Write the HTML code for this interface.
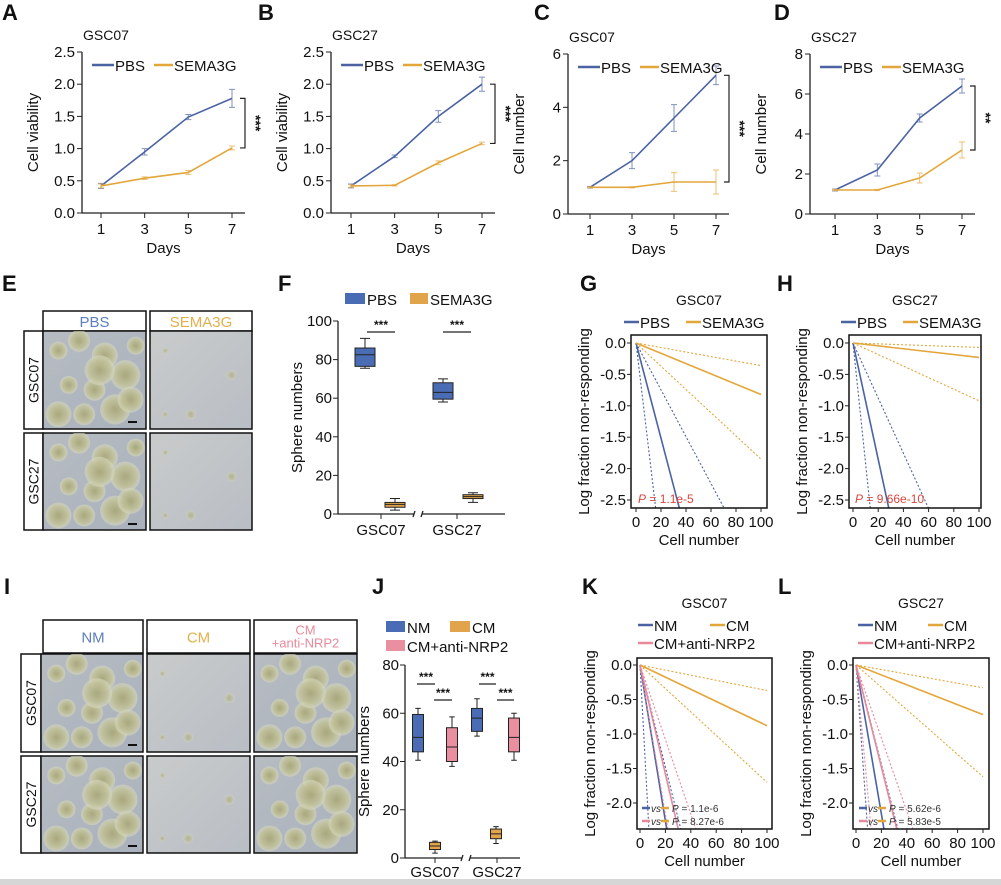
<!DOCTYPE html>
<html><head><meta charset="utf-8"><style>
html,body{margin:0;padding:0;background:#fff;width:1001px;height:885px;overflow:hidden;}
svg{display:block;font-family:"Liberation Sans",Arial,sans-serif;}
</style></head><body>
<svg id="fig" width="1001" height="885" viewBox="0 0 1001 885" xmlns="http://www.w3.org/2000/svg">
<defs>
<radialGradient id="blob" cx="50%" cy="50%" r="50%"><stop offset="0%" stop-color="#a8a676"/><stop offset="70%" stop-color="#c2c29a"/><stop offset="100%" stop-color="#d8dac0" stop-opacity="0.6"/></radialGradient>
<linearGradient id="bgA" x1="0" y1="0" x2="1" y2="1"><stop offset="0" stop-color="#b7bcc2"/><stop offset="1" stop-color="#a9b1bc"/></linearGradient>
<linearGradient id="bgB" x1="0" y1="0" x2="1" y2="1"><stop offset="0" stop-color="#c9cbcb"/><stop offset="1" stop-color="#b9bec5"/></linearGradient>
</defs>
<rect x="0" y="879" width="1001" height="6" fill="#d6d6d6"/>
<g id="root"></g>
</svg>
<script>
// ---------- Data: panels A-D ----------
const days=[1,3,5,7];
const aPBS=[0.42,0.95,1.49,1.78], aPBSerr=[0.04,0.05,0.04,0.14];
const aSEMA=[0.42,0.54,0.63,1.01], aSEMAerr=[0.03,0.02,0.03,0.03];
const bPBS=[0.42,0.88,1.50,2.00], bPBSerr=[0.03,0.02,0.09,0.11];
const bSEMA=[0.42,0.43,0.78,1.08], bSEMAerr=[0.02,0.01,0.03,0.02];
const cPBS=[1,2,3.6,5.2], cPBSerr=[0.03,0.3,0.5,0.35];
const cSEMA=[1,1,1.2,1.2], cSEMAerr=[0.02,0.02,0.35,0.45];
const dPBS=[1.2,2.2,4.8,6.4], dPBSerr=[0.05,0.3,0.2,0.35];
const dSEMA=[1.2,1.2,1.8,3.2], dSEMAerr=[0.03,0.03,0.25,0.4];
const ticksAB=[0,0.5,1.0,1.5,2.0,2.5];
const ticksC=[0,2,4,6];
const ticksD=[0,2,4,6,8];
// ---------- Data: panel F (min,q1,med,q3,max) ----------
const fGroups=["GSC07","GSC27"];
const fPBS=[[75.5,76.5,82.5,86,91],[58,59.5,63,68,70]];
const fSEMA=[[2,3.5,5,6,8],[6,8,9,10,11]];
const fTicks=[0,20,40,60,80,100];
// ---------- Data: panel J ----------
const jGroups=["GSC07","GSC27"];
const jNM=[[40.5,44,50,59.5,62],[50.5,52.5,58,62,66]];
const jCM=[[2,3.5,5,6.5,7],[6,8,10,12,13]];
const jNRP=[[38,40,46,54,58.5],[40.5,44,50,58,60]];
const jTicks=[0,20,40,60,80];
// ---------- Data: LDA slopes (log fraction per cell): [estimate, lower, upper] ----------
const gPBS=[-0.0758,-0.167,-0.0373], gSEMA=[-0.0082,-0.0185,-0.0036];
const hPBS=[-0.0926,-0.192,-0.0439], hSEMA=[-0.0023,-0.0092,-0.0007];
const kNM=[-0.113,-0.34,-0.074], kCM=[-0.0088,-0.017,-0.0037], kNRP=[-0.079,-0.108,-0.054];
const lNM=[-0.108,-0.26,-0.072], lCM=[-0.0072,-0.0162,-0.0033], lNRP=[-0.074,-0.2,-0.053];
const ldaTicksGH=[0,-0.5,-1.0,-1.5,-2.0,-2.5];
const ldaTicksKL=[0,-0.5,-1.0,-1.5,-2.0];
const ldaXTicks=[0,20,40,60,80,100];

const BLUE="#4b63a3", ORANGE="#e3a63a", PINK="#e8899b";
const NS="http://www.w3.org/2000/svg";
const root=document.getElementById('root');
function el(tag,attrs,parent,txt){const e=document.createElementNS(NS,tag);for(const k in attrs)e.setAttribute(k,attrs[k]);if(txt!==undefined)e.textContent=txt;(parent||root).appendChild(e);return e;}
function text(x,y,s,opt,parent){opt=opt||{};const t=el('text',{x:x,y:y,'font-size':opt.size||15,fill:opt.fill||'#111','text-anchor':opt.anchor||'start','font-weight':opt.weight||'normal'},parent,s);if(opt.rot)t.setAttribute('transform','rotate(-90 '+x+' '+y+')');if(opt.italic)t.setAttribute('font-style','italic');return t;}

const letters=[["A",2,20],["B",258,20],["C",534,20],["D",774,20],["E",2,291],["F",278,291],["G",580,291],["H",777,291],["I",4,594],["J",372,594],["K",582,594],["L",778,594]];
letters.forEach(l=>{const t=text(l[1],l[2],l[0],{size:22,weight:'bold'});

});

function lineChart(cfg){
  const g=el('g',{});
  
  
  const ys=v=>cfg.yBot-(v/cfg.yMax)*(cfg.yBot-cfg.yTop);
  const xs=d=>cfg.x1+(d-1)/6*(cfg.x7-cfg.x1);
  el('line',{x1:cfg.axX,y1:cfg.yTop,x2:cfg.axX,y2:cfg.yBot,stroke:'#222','stroke-width':1.3},g);
  el('line',{x1:cfg.axX,y1:cfg.yBot,x2:cfg.x7+13,y2:cfg.yBot,stroke:'#222','stroke-width':1.3},g);
  cfg.ticks.forEach(t=>{const y=ys(t);el('line',{x1:cfg.axX-5,y1:y,x2:cfg.axX,y2:y,stroke:'#222'},g);
    text(cfg.axX-7,y+5,cfg.dec?t.toFixed(1):String(t),{anchor:'end',size:15},g);});
  days.forEach(d=>{const x=xs(d);el('line',{x1:x,y1:cfg.yBot,x2:x,y2:cfg.yBot+5,stroke:'#222'},g);text(x,cfg.yBot+21,String(d),{anchor:'middle'},g);});
  text((cfg.axX+cfg.x7+13)/2,cfg.yBot+40,'Days',{anchor:'middle'},g);
  text(cfg.axX-44,(cfg.yTop+cfg.yBot)/2,cfg.ylab,{anchor:'middle',rot:true},g);
  text(cfg.axX+1,cfg.yTop-12,cfg.title,{size:14},g);
  [[cfg.s1,cfg.e1,BLUE,'pbs'],[cfg.s2,cfg.e2,ORANGE,'sema3g']].forEach(s=>{
    const pts=s[0].map((v,i)=>xs(days[i])+','+ys(v)).join(' ');
    const pl=el('polyline',{points:pts,fill:'none',stroke:s[2],'stroke-width':1.6},g);
    
    
    s[0].forEach((v,i)=>{const x=xs(days[i]);const e=s[1][i];
      el('path',{d:`M${x},${ys(v+e)}V${ys(v-e)}M${x-3},${ys(v+e)}h6M${x-3},${ys(v-e)}h6`,stroke:s[2],'stroke-width':1,fill:'none','stroke-opacity':0.7},g);});
  });
  const ly=cfg.yTop+13;
  el('line',{x1:cfg.axX+10,y1:ly,x2:cfg.axX+32,y2:ly,stroke:BLUE,'stroke-width':2.5},g);
  text(cfg.axX+33,ly+6,'PBS',{},g);
  el('line',{x1:cfg.axX+72,y1:ly,x2:cfg.axX+91,y2:ly,stroke:ORANGE,'stroke-width':2.5},g);
  text(cfg.axX+92,ly+6,'SEMA3G',{},g);
  const bx=cfg.x7+13, t1=ys(cfg.s1[3]), t2=ys(cfg.s2[3]);
  el('path',{d:`M${bx-5},${t1}H${bx}V${t2}H${bx-5}`,stroke:'#222',fill:'none','stroke-width':1.2},g);
  const st=text(bx+6,(t1+t2)/2,cfg.stars,{anchor:'middle',size:14,weight:'bold'},g);
  st.setAttribute('transform','rotate(90 '+(bx+6)+' '+((t1+t2)/2)+')');
}
lineChart({id:'a',axX:82,yTop:52,yBot:213,yMax:2.5,x1:101,x7:232,ticks:ticksAB,dec:true,s1:aPBS,e1:aPBSerr,s2:aSEMA,e2:aSEMAerr,ylab:'Cell viability',title:'GSC07',stars:'***'});
lineChart({id:'b',axX:331,yTop:52,yBot:213,yMax:2.5,x1:351,x7:482,ticks:ticksAB,dec:true,s1:bPBS,e1:bPBSerr,s2:bSEMA,e2:bSEMAerr,ylab:'Cell viability',title:'GSC27',stars:'***'});
lineChart({id:'c',axX:568,yTop:54,yBot:214,yMax:6,x1:590,x7:716,ticks:ticksC,dec:false,s1:cPBS,e1:cPBSerr,s2:cSEMA,e2:cSEMAerr,ylab:'Cell number',title:'GSC07',stars:'***'});
lineChart({id:'d',axX:810,yTop:54,yBot:214,yMax:8,x1:835,x7:962,ticks:ticksD,dec:false,s1:dPBS,e1:dPBSerr,s2:dSEMA,e2:dSEMAerr,ylab:'Cell number',title:'GSC27',stars:'**'});

function micro(x,y,w,h,dense,name){
  const g=el('g',{});
  
  
  el('rect',{x:x,y:y,width:w,height:h,fill:dense?'url(#bgA)':'url(#bgB)',stroke:'#111','stroke-width':1.5},g);
  const cp=el('clipPath',{id:'cp'+name},g);el('rect',{x:x,y:y,width:w,height:h},cp);
  const gg=el('g',{'clip-path':'url(#cp'+name+')'},g);
  const spots=[[.15,.2],[.35,.1],[.6,.25],[.8,.45],[.25,.55],[.5,.6],[.15,.85],[.7,.8],[.9,.15],[.4,.85],[.85,.7],[.55,.4]];
  spots.forEach((s,i)=>{ if(!dense && i%3) return;
    const r=dense?(9+(i%4)*2):3+(i%2)*2;
    el('circle',{cx:x+s[0]*w,cy:y+s[1]*h,r:r,fill:'url(#blob)','fill-opacity':dense?0.9:0.6},gg);});
}
function header(x,y,w,h,label,color,name,l2){
  const g=el('g',{});
  el('rect',{x:x,y:y,width:w,height:h,fill:'#fff',stroke:'#111','stroke-width':1.5},g);
  if(l2){text(x+w/2,y+h/2-2,label,{anchor:'middle',fill:color,size:13},g);text(x+w/2,y+h/2+11,l2,{anchor:'middle',fill:color,size:13},g);}
  else text(x+w/2,y+h/2+6,label,{anchor:'middle',fill:color,size:15},g);
}
function rowLabel(x,y,w,h,label,name){
  const g=el('g',{});
  el('rect',{x:x,y:y,width:w,height:h,fill:'#fff',stroke:'#111','stroke-width':1.5},g);
  text(x+w/2+5,y+h/2,label,{anchor:'middle',rot:true,size:14},g);
}
header(43,311,103,20,'PBS','#5b7fc0','e-header-pbs');
header(150,311,102,20,'SEMA3G','#e3b04b','e-header-sema3g');
rowLabel(24,331,19,98,'GSC07','e-row-gsc07');rowLabel(24,433,19,97,'GSC27','e-row-gsc27');
micro(43,331,103,98,true,'e-img-gsc07-pbs');micro(150,331,102,98,false,'e-img-gsc07-sema3g');
micro(43,433,103,97,true,'e-img-gsc27-pbs');micro(150,433,102,97,false,'e-img-gsc27-sema3g');
el('line',{x1:128,y1:422,x2:137,y2:422,stroke:'#111','stroke-width':2});el('line',{x1:128,y1:524,x2:137,y2:524,stroke:'#111','stroke-width':2});
header(43,620,100,33,'NM','#5b7fc0','i-header-nm');
header(147,620,103,33,'CM','#e3b04b','i-header-cm');
header(254,620,103,33,'CM','#e8899b','i-header-cm-anti-nrp2','+anti-NRP2');
rowLabel(21,654,20,98,'GSC07','i-row-gsc07');rowLabel(21,756,20,97,'GSC27','i-row-gsc27');
micro(41,654,102,98,true,'i-img-gsc07-nm');micro(147,654,103,98,false,'i-img-gsc07-cm');micro(254,654,103,98,true,'i-img-gsc07-nrp2');
micro(41,756,102,97,true,'i-img-gsc27-nm');micro(147,756,103,97,false,'i-img-gsc27-cm');micro(254,756,103,97,true,'i-img-gsc27-nrp2');
el('line',{x1:128,y1:745,x2:137,y2:745,stroke:'#111','stroke-width':2});el('line',{x1:128,y1:846,x2:137,y2:846,stroke:'#111','stroke-width':2});

function boxChart(cfg){
  const g=el('g',{});
  const ys=v=>cfg.yBot-(v/cfg.yMax)*(cfg.yBot-cfg.yTop);
  el('line',{x1:cfg.axX,y1:cfg.yTop,x2:cfg.axX,y2:cfg.yBot,stroke:'#222','stroke-width':1.3},g);
  el('line',{x1:cfg.axX,y1:cfg.yBot,x2:cfg.brk,y2:cfg.yBot,stroke:'#222','stroke-width':1.3},g);
  el('line',{x1:cfg.brk+8,y1:cfg.yBot,x2:cfg.xEnd,y2:cfg.yBot,stroke:'#222','stroke-width':1.3},g);
  el('path',{d:`M${cfg.brk-1},${cfg.yBot+3}l2,-6M${cfg.brk+7},${cfg.yBot+3}l2,-6`,stroke:'#222','stroke-width':1.3},g);
  cfg.ticks.forEach(t=>{const y=ys(t);el('line',{x1:cfg.axX-5,y1:y,x2:cfg.axX,y2:y,stroke:'#222'},g);text(cfg.axX-6,y+5,String(t),{anchor:'end'},g);});
  text(cfg.axX-36,(cfg.yTop+cfg.yBot)/2,'Sphere numbers',{anchor:'middle',rot:true},g);
  cfg.groups.forEach((gn,gi)=>{const gx=cfg.gx[gi];el('line',{x1:gx,y1:cfg.yBot,x2:gx,y2:cfg.yBot+5,stroke:'#222'},g);text(gx,cfg.yBot+cfg.lblOff,gn,{anchor:'middle'},g);});
  cfg.series.forEach((s,si)=>{
    s.data.forEach((st,gi)=>{const cx=cfg.cx[gi][si],w=cfg.bw;
      const b=el('rect',{x:cx-w/2,y:ys(st[3]),width:w,height:ys(st[1])-ys(st[3]),fill:s.color,stroke:'#222','stroke-width':1},g);
      
      
      el('path',{d:`M${cx},${ys(st[3])}V${ys(st[4])}M${cx-w/4},${ys(st[4])}h${w/2}M${cx},${ys(st[1])}V${ys(st[0])}M${cx-w/4},${ys(st[0])}h${w/2}M${cx-w/2},${ys(st[2])}h${w}`,stroke:'#222','stroke-width':1,fill:'none'},g);
    });
  });
  cfg.sig.forEach(s=>{el('line',{x1:s[0],y1:s[2],x2:s[1],y2:s[2],stroke:'#222','stroke-width':1.2},g);text((s[0]+s[1])/2,s[2]-3,'***',{anchor:'middle',size:12,weight:'bold'},g);});
}
boxChart({id:'f',axX:338,yTop:321,yBot:514,yMax:100,brk:414,xEnd:505,lblOff:21,ticks:fTicks,groups:fGroups,gx:[381,457],bw:20,
  cx:[[365,395],[443,473]],series:[{name:'pbs',color:'#4a6cb4',data:fPBS},{name:'sema3g',color:'#e2a44a',data:fSEMA}],
  sig:[[367,395,332],[443,471,332]]});
boxChart({id:'j',axX:405,yTop:665,yBot:858,yMax:80,brk:462,xEnd:520,lblOff:19,ticks:jTicks,groups:jGroups,gx:[435,497],bw:11,
  cx:[[418,435,452],[477,496,514]],series:[{name:'nm',color:'#4a6cb4',data:jNM},{name:'cm',color:'#e2a44a',data:jCM},{name:'cm-anti-nrp2',color:'#e98fa0',data:jNRP}],
  sig:[[417,435,684],[434,452,700],[479,496,684],[497,514,700]]});
function swatch(x,y,w,c,lab,name){const g=el('g',{});
  el('rect',{x:x,y:y-6,width:w,height:11,fill:c},g);text(x+w+2,y+6,lab,{size:15},g);}
swatch(345,299,20,'#4a6cb4','PBS','f-legend-pbs');swatch(410,299,18,'#e2a44a','SEMA3G','f-legend-sema3g');
swatch(386,627,19,'#4a6cb4','NM','j-legend-nm');swatch(450,627,20,'#e2a44a','CM','j-legend-cm');swatch(386,646,19,'#e98fa0','CM+anti-NRP2','j-legend-nrp2');

function lda(cfg){
  const g=el('g',{});
  const xs=v=>cfg.x0+v/100*(cfg.x100-cfg.x0);
  const ys=v=>cfg.y0+(v/cfg.yRef)*(cfg.yRefPx-cfg.y0);
  const cid='clip'+cfg.id;const cp=el('clipPath',{id:cid},g);el('rect',{x:cfg.bx,y:cfg.by,width:cfg.bw,height:cfg.bh},cp);
  const lg=el('g',{'clip-path':'url(#'+cid+')'},g);
  cfg.series.forEach(s=>{
    s.slopes.forEach((sl,i)=>{const l=el('line',{x1:xs(0),y1:ys(0),x2:xs(100),y2:ys(sl*100),stroke:s.color,'stroke-width':i?1.1:1.6},lg);
      if(i)l.setAttribute('stroke-dasharray','2,2');
      
      });
  });
  el('rect',{x:cfg.bx,y:cfg.by,width:cfg.bw,height:cfg.bh,fill:'none',stroke:'#111','stroke-width':1.5},g);
  cfg.yt.forEach(t=>{const y=ys(t);el('line',{x1:cfg.bx-4,y1:y,x2:cfg.bx,y2:y,stroke:'#222'},g);text(cfg.bx-5,y+5,t.toFixed(1),{anchor:'end'},g);});
  ldaXTicks.forEach(t=>{const x=xs(t);el('line',{x1:x,y1:cfg.by+cfg.bh,x2:x,y2:cfg.by+cfg.bh+4,stroke:'#222'},g);text(x,cfg.by+cfg.bh+19,String(t),{anchor:'middle'},g);});
  text(cfg.bx+cfg.bw/2,cfg.by+cfg.bh+37,'Cell number',{anchor:'middle'},g);
  text(cfg.bx-42,cfg.by+cfg.bh/2,'Log fraction non-responding',{anchor:'middle',rot:true},g);
  text(cfg.bx+cfg.bw/2,cfg.titleY,cfg.title,{anchor:'middle',size:14},g);
  cfg.legend.forEach(l=>{el('line',{x1:l[0],y1:l[1],x2:l[0]+15,y2:l[1],stroke:l[3],'stroke-width':2.5},g);text(l[0]+16,l[1]+6,l[2],{},g);});
  cfg.pvals.forEach(p=>{
    if(p.c1){el('line',{x1:p.x,y1:p.y-4,x2:p.x+8,y2:p.y-4,stroke:p.c1,'stroke-width':2.5},g);
      text(p.x+9,p.y,'vs',{size:10,italic:true,fill:'#333'},g);
      el('line',{x1:p.x+19,y1:p.y-4,x2:p.x+27,y2:p.y-4,stroke:p.c2,'stroke-width':2.5},g);
      const t=text(p.x+30,p.y,'',{size:10,fill:'#333'},g);el('tspan',{'font-style':'italic'},t,'P');el('tspan',{},t,' = '+p.v);}
    else {const t=text(p.x,p.y,'',{size:12,fill:'#d9463e'},g);el('tspan',{'font-style':'italic'},t,'P');el('tspan',{},t,' = '+p.v);}
  });
}
lda({id:'g',bx:631,by:335,bw:136,bh:173,x0:636,x100:761,y0:343,yRef:-2.5,yRefPx:500,yt:ldaTicksGH,title:'GSC07',titleY:305,
  series:[{name:'pbs',color:BLUE,slopes:gPBS},{name:'sema3g',color:ORANGE,slopes:gSEMA}],
  legend:[[624,322,'PBS',BLUE],[686,322,'SEMA3G',ORANGE]],pvals:[{x:638,y:503,v:'1.1e-5'}]});
lda({id:'h',bx:849,by:335,bw:132,bh:173,x0:853,x100:979,y0:343,yRef:-2.5,yRefPx:500,yt:ldaTicksGH,title:'GSC27',titleY:305,
  series:[{name:'pbs',color:BLUE,slopes:hPBS},{name:'sema3g',color:ORANGE,slopes:hSEMA}],
  legend:[[841,322,'PBS',BLUE],[903,322,'SEMA3G',ORANGE]],pvals:[{x:855,y:503,v:'9.66e-10'}]});
lda({id:'k',bx:637,by:658,bw:135,bh:171,x0:640,x100:767,y0:665,yRef:-2.0,yRefPx:803,yt:ldaTicksKL,title:'GSC07',titleY:608,
  series:[{name:'cm',color:ORANGE,slopes:kCM},{name:'nm',color:BLUE,slopes:kNM},{name:'cm-anti-nrp2',color:PINK,slopes:kNRP}],
  legend:[[638,625,'NM',BLUE],[710,625,'CM',ORANGE],[638,643,'CM+anti-NRP2',PINK]],
  pvals:[{x:642,y:812,v:'1.1e-6',c1:BLUE,c2:ORANGE},{x:642,y:825,v:'8.27e-6',c1:PINK,c2:ORANGE}]});
lda({id:'l',bx:853,by:658,bw:136,bh:171,x0:856,x100:983,y0:665,yRef:-2.0,yRefPx:803,yt:ldaTicksKL,title:'GSC27',titleY:608,
  series:[{name:'cm',color:ORANGE,slopes:lCM},{name:'nm',color:BLUE,slopes:lNM},{name:'cm-anti-nrp2',color:PINK,slopes:lNRP}],
  legend:[[858,625,'NM',BLUE],[928,625,'CM',ORANGE],[858,643,'CM+anti-NRP2',PINK]],
  pvals:[{x:859,y:812,v:'5.62e-6',c1:BLUE,c2:ORANGE},{x:859,y:825,v:'5.83e-5',c1:PINK,c2:ORANGE}]});
</script>
</body></html>
